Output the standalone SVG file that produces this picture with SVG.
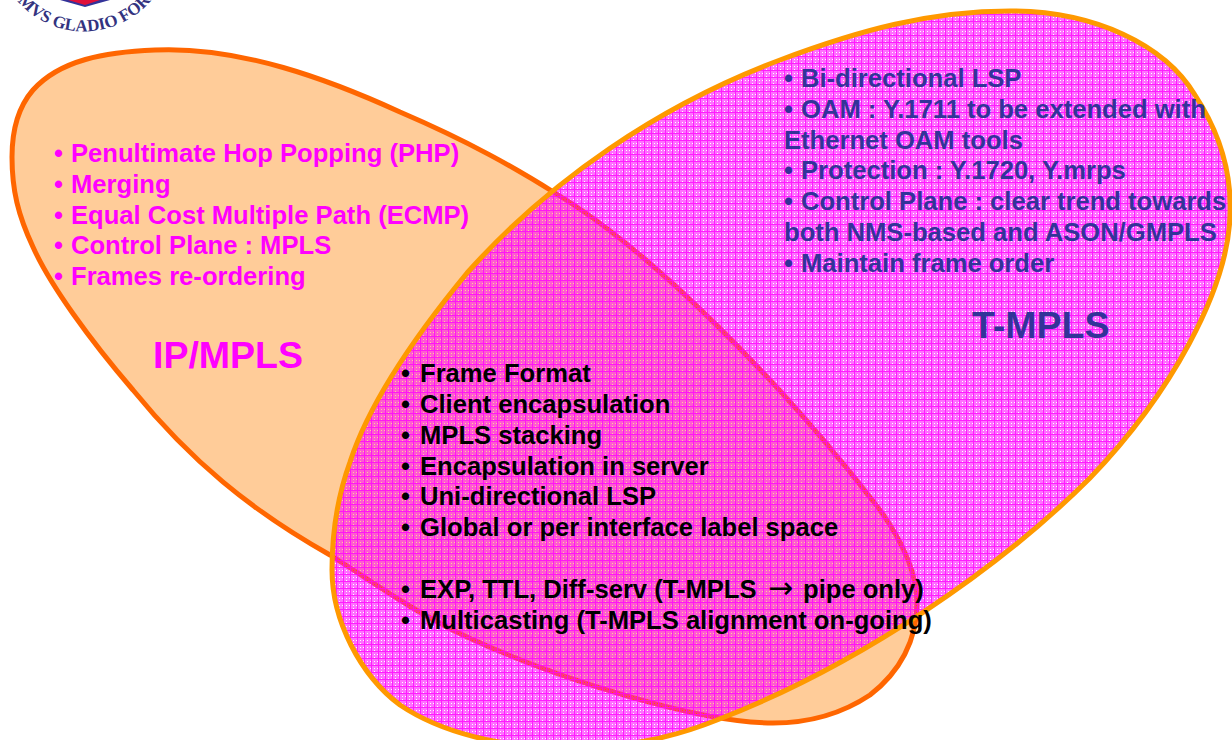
<svg xmlns="http://www.w3.org/2000/svg" width="1232" height="740" viewBox="0 0 1232 740">
<style>
text{font-family:"Liberation Sans",Arial,sans-serif;font-weight:bold;font-size:25.6px}
.p{fill:#ff00ff}.b{fill:#333399}.k{fill:#000}
text.h{font-size:37.5px}
.arr{font-family:"DejaVu Sans",sans-serif;font-weight:normal;font-size:30px}
text.logo{font-family:"Liberation Serif",serif;font-size:17px;fill:#33337f}
</style>
<defs>
<pattern id="grid" width="7" height="7" patternUnits="userSpaceOnUse">
<path d="M0 0H7V7H0ZM3 3V4H4V3ZM6 3V4H7V3ZM3 6V7H4V6Z" fill="#ff00ff" fill-opacity="0.56" fill-rule="evenodd"/>
<path d="M0 .5H7M.5 1V7" stroke="#ff00ff" stroke-width="1" stroke-opacity="0.75" fill="none" shape-rendering="crispEdges"/>
</pattern>
<path id="logocurve" d="M12 -6A88 88 0 0 0 156 -6"/>
</defs>
<rect width="1232" height="740" fill="#fff"/>
<g id="logo">
<path d="M60 0L85 7L110 0Z" fill="#333399"/>
<path d="M68 0L85 5L100 0Z" fill="#e0103a"/>
<text class="logo"><textPath href="#logocurve" startOffset="9">MVS GLADIO FOR</textPath></text>
</g>
<g id="ip-mpls">
<path d="M155 50C240 46 330 80 400 112C470 142 515 168 555 193C650 250 780 380 880 510C905 545 917 575 917 603C917 640 900 672 870 695C840 715 805 723 773 723C700 723 560 680 467 637C410 610 370 580 330 555C250 510 190 460 133 390C90 340 50 285 33 247C18 215 12 190 12 157C12 125 20 105 33 90C60 60 105 52 155 50Z" fill="#ffcc99" stroke="#ff6600" stroke-width="5"/>
</g>
<g id="t-mpls">
<path d="M1010 11C1095 11 1165 45 1195 95C1218 130 1232 170 1230 215C1228 290 1170 395 1090 478C1000 568 860 665 717 720C680 735 630 748 570 748C500 748 440 732 400 705C360 675 332 620 332 570C332 530 338 495 350 462C370 400 420 330 467 273C550 180 660 105 780 60C860 30 930 11 1010 11Z" fill="url(#grid)" stroke="#ff9900" stroke-width="5"/>
</g>
<g id="ip-text" class="p">
<text y="162"><tspan x="54">•</tspan><tspan x="71">Penultimate Hop Popping (PHP)</tspan></text>
<text y="193"><tspan x="54">•</tspan><tspan x="71">Merging</tspan></text>
<text y="224"><tspan x="54">•</tspan><tspan x="71">Equal Cost Multiple Path (ECMP)</tspan></text>
<text y="254"><tspan x="54">•</tspan><tspan x="71">Control Plane : MPLS</tspan></text>
<text y="285"><tspan x="54">•</tspan><tspan x="71">Frames re-ordering</tspan></text>
<text x="153" y="368" class="h">IP/MPLS</text>
</g>
<g id="t-text" class="b">
<text y="87"><tspan x="784">•</tspan><tspan x="801">Bi-directional LSP</tspan></text>
<text y="118"><tspan x="784">•</tspan><tspan x="801">OAM : Y.1711 to be extended with</tspan></text>
<text x="784" y="149">Ethernet OAM tools</text>
<text y="179"><tspan x="784">•</tspan><tspan x="801">Protection : Y.1720, Y.mrps</tspan></text>
<text y="210"><tspan x="784">•</tspan><tspan x="801">Control Plane : clear trend towards</tspan></text>
<text x="784" y="241">both NMS-based and ASON/GMPLS</text>
<text y="272"><tspan x="784">•</tspan><tspan x="801">Maintain frame order</tspan></text>
<text x="972" y="338" class="h">T-MPLS</text>
</g>
<g id="common-text" class="k">
<text y="382"><tspan x="401">•</tspan><tspan x="420">Frame Format</tspan></text>
<text y="413"><tspan x="401">•</tspan><tspan x="420">Client encapsulation</tspan></text>
<text y="444"><tspan x="401">•</tspan><tspan x="420">MPLS stacking</tspan></text>
<text y="475"><tspan x="401">•</tspan><tspan x="420">Encapsulation in server</tspan></text>
<text y="505"><tspan x="401">•</tspan><tspan x="420">Uni-directional LSP</tspan></text>
<text y="536"><tspan x="401">•</tspan><tspan x="420">Global or per interface label space</tspan></text>
<text y="598"><tspan x="401">•</tspan><tspan x="420">EXP, TTL, Diff-serv (T-MPLS</tspan><tspan class="arr" x="768">→</tspan><tspan x="803">pipe only)</tspan></text>
<text y="629"><tspan x="401">•</tspan><tspan x="420">Multicasting (T-MPLS alignment on-going)</tspan></text>
</g>
</svg>
